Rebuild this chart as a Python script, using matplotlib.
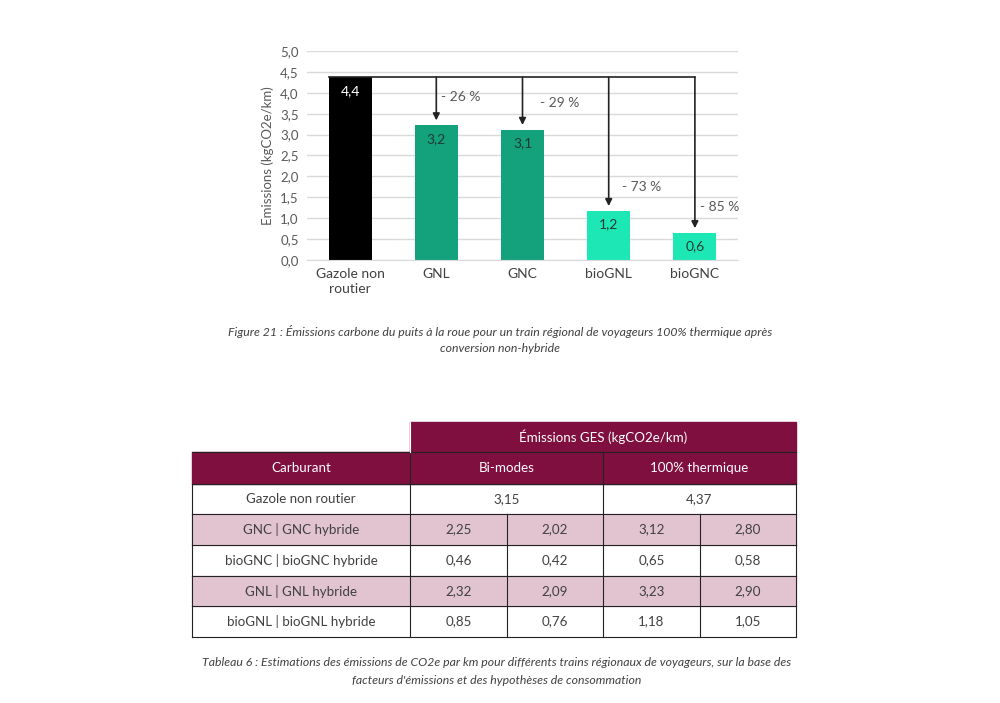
import matplotlib
matplotlib.use('Agg')
import matplotlib.pyplot as plt
from matplotlib.patches import Rectangle

plt.rcParams['font.family'] = ['Lato', 'DejaVu Sans']

# bar chart data
fuels = ['Gazole non\nroutier', 'GNL', 'GNC', 'bioGNL', 'bioGNC']
emissions = [4.37, 3.23, 3.12, 1.18, 0.65]
bar_labels = ['4,4', '3,2', '3,1', '1,2', '0,6']
reductions = ['- 26 %', '- 29 %', '- 73 %', '- 85 %']
bar_colors = ['#000000', '#13a27b', '#13a27b', '#1de8b5', '#1de8b5']
yticks = [0, 0.5, 1, 1.5, 2, 2.5, 3, 3.5, 4, 4.5, 5]

# table data
table_header = ['Carburant', 'Bi-modes', '100% thermique']
table_rows = ['Gazole non routier', 'GNC | GNC hybride', 'bioGNC | bioGNC hybride',
              'GNL | GNL hybride', 'bioGNL | bioGNL hybride']
bimode = ['3,15', '2,25', '0,46', '2,32', '0,85']
bimode_hyb = [None, '2,02', '0,42', '2,09', '0,76']
thermique = ['4,37', '3,12', '0,65', '3,23', '1,18']
thermique_hyb = [None, '2,80', '0,58', '2,90', '1,05']

fig = plt.figure(figsize=(10, 7.03), dpi=100)

# ---- bar chart ----
ax = fig.add_axes([0.307, 443 / 703, 0.431, 209 / 703])
x = range(len(fuels))
ax.bar(x, emissions, width=0.5, color=bar_colors, zorder=2)
ax.set_xlim(-0.5, 4.5)
ax.set_ylim(0, 5)
ax.set_yticks(yticks)
ax.set_yticklabels([f'{t:.1f}'.replace('.', ',') for t in yticks], color='#595959', size=9.5)
ax.set_xticks(list(x))
ax.set_xticklabels(fuels, color='#404040', size=10, linespacing=1.25)
ax.tick_params(length=0, pad=6)
ax.grid(axis='y', color='#d9d9d9', lw=1, zorder=0)
for s in ['top', 'right', 'left']:
    ax.spines[s].set_visible(False)
ax.spines['bottom'].set_color('#d9d9d9')
ax.set_ylabel('Emissions (kgCO2e/km)', color='#595959', size=9.5, labelpad=4)

for i, (v, lab) in enumerate(zip(emissions, bar_labels)):
    ax.text(i, v - 0.33, lab, ha='center', va='center', size=10,
            color='white' if i == 0 else '#1f3b33', zorder=4)

# arrows from gazole level
ax.plot([-0.25, 4], [emissions[0], emissions[0]], color='#222222', lw=1.2, zorder=3)
label_pos = [(1.06, 3.9), (2.2, 3.75), (3.15, 1.75), (4.06, 1.27)]
for i in range(1, 5):
    ax.annotate('', xy=(i, emissions[i] + 0.11), xytext=(i, emissions[0]),
                arrowprops=dict(arrowstyle='-|>', color='#222222', lw=1.2,
                                mutation_scale=10, shrinkA=0, shrinkB=0), zorder=3)
    lx, ly = label_pos[i - 1]
    ax.text(lx, ly, reductions[i - 1], ha='left', va='center', size=10, color='#595959')

# ---- captions and table (pixel coordinates) ----
ov = fig.add_axes([0, 0, 1, 1], zorder=-1)
ov.set_xlim(0, 1000)
ov.set_ylim(703, 0)
ov.axis('off')

cap_size = 8.8
ov.text(500, 332, 'Figure 21 : Émissions carbone du puits à la roue pour un train régional de voyageurs 100% thermique après',
        ha='center', va='center', style='italic', size=cap_size, color='#404040')
ov.text(500, 349, 'conversion non-hybride', ha='center', va='center', style='italic', size=cap_size, color='#404040')

header_col = '#7f0f3f'
pink = '#e2c4d0'
line_col = '#222222'
cols = [192, 410, 507, 603, 700, 796]
rows_y = [484, 514, 545, 576, 606, 637]
tsize = 9.6

# top header
ov.add_patch(Rectangle((410, 422), 386, 30, color=header_col))
ov.text(603, 437, 'Émissions GES (kgCO2e/km)', ha='center', va='center', color='white', size=tsize)
# second header
ov.add_patch(Rectangle((192, 452), 604, 32, color=header_col))
for (x0, x1), t in zip([(192, 410), (410, 603), (603, 796)], table_header):
    ov.text((x0 + x1) / 2, 468, t, ha='center', va='center', color='white', size=tsize)
ov.plot([410, 410], [452, 484], color=line_col, lw=0.8)
ov.plot([603, 603], [452, 484], color=line_col, lw=0.8)
ov.plot([192, 796], [452, 452], color=line_col, lw=0.8)
ov.plot([410, 410], [422, 452], color='white', lw=0.8)

for r, name in enumerate(table_rows):
    y0, y1 = rows_y[r], rows_y[r + 1]
    yc = (y0 + y1) / 2
    if r % 2 == 1:
        ov.add_patch(Rectangle((192, y0), 604, y1 - y0, color=pink, zorder=0))
    ov.text(301, yc, name, ha='center', va='center', size=tsize, color='#404040')
    ov.plot([192, 796], [y1, y1], color=line_col, lw=0.8)
    if bimode_hyb[r] is None:
        ov.text(506.5, yc, bimode[r], ha='center', va='center', size=tsize, color='#404040')
        ov.text(699.5, yc, thermique[r], ha='center', va='center', size=tsize, color='#404040')
        vlines = [192, 410, 603, 796]
    else:
        vals = [bimode[r], bimode_hyb[r], thermique[r], thermique_hyb[r]]
        for c, v in enumerate(vals):
            ov.text((cols[c + 1] + cols[c + 2]) / 2, yc, v, ha='center', va='center',
                    size=tsize, color='#404040')
        vlines = cols
    for xv in vlines:
        ov.plot([xv, xv], [y0, y1], color=line_col, lw=0.8)
ov.plot([192, 796], [484, 484], color=line_col, lw=0.8)

ov.text(497, 663, 'Tableau 6 : Estimations des émissions de CO2e par km pour différents trains régionaux de voyageurs, sur la base des',
        ha='center', va='center', style='italic', size=cap_size, color='#404040')
ov.text(497, 680, "facteurs d'émissions et des hypothèses de consommation", ha='center', va='center',
        style='italic', size=cap_size, color='#404040')

fig.savefig('out.png', dpi=100)
